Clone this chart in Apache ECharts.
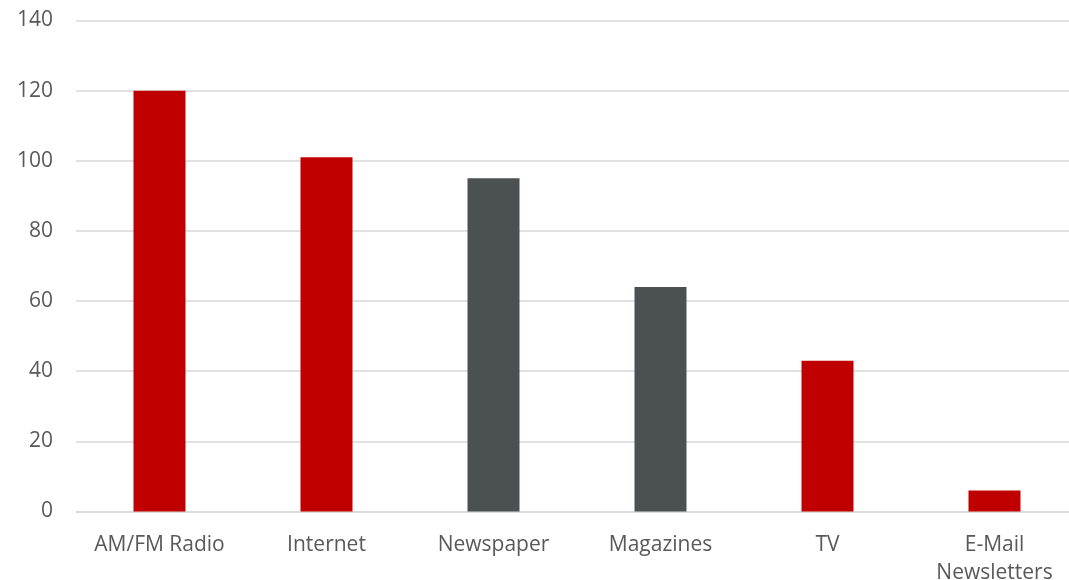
<!DOCTYPE html>
<html>
<head>
<meta charset="utf-8">
<script src="https://cdn.jsdelivr.net/npm/echarts@6/dist/echarts.min.js"></script>
<style>html,body{margin:0;padding:0;background:#fff;}#c{width:1069px;height:580px;}</style>
</head>
<body>
<div id="c"></div>
<script>
const categories = ['AM/FM Radio', 'Internet', 'Newspaper', 'Magazines', 'TV', 'E-Mail\nNewsletters'];
const values = [120, 101, 95, 64, 43, 6];
const barColors = ['#C00000', '#C00000', '#4B5150', '#4B5150', '#C00000', '#C00000'];
const yTicks = { min: 0, max: 140, interval: 20 };

const chart = echarts.init(document.getElementById('c'), null, { renderer: 'canvas' });
chart.setOption({
  animation: false,
  backgroundColor: '#fff',
  grid: { left: 76, top: 20.5, width: 1002, bottom: 68.5, containLabel: false, outerBoundsMode: 'none' },
  xAxis: {
    type: 'category',
    data: categories,
    axisLine: { show: true, lineStyle: { color: '#D9D9D9', width: 1.5 } },
    axisTick: { show: false },
    axisLabel: { color: '#595959', fontSize: 21, fontFamily: 'Open Sans', margin: 20, lineHeight: 28, interval: 0 }
  },
  yAxis: {
    type: 'value',
    min: yTicks.min, max: yTicks.max, interval: yTicks.interval,
    axisLine: { show: false },
    axisTick: { show: false },
    splitLine: { lineStyle: { color: '#D9D9D9', width: 1.5 } },
    axisLabel: { color: '#595959', fontSize: 21, fontFamily: 'Open Sans', margin: 23 }
  },
  series: [{
    type: 'bar',
    barWidth: 52,
    data: values.map((v, i) => ({ value: v, itemStyle: { color: barColors[i] } }))
  }]
});
</script>
</body>
</html>
